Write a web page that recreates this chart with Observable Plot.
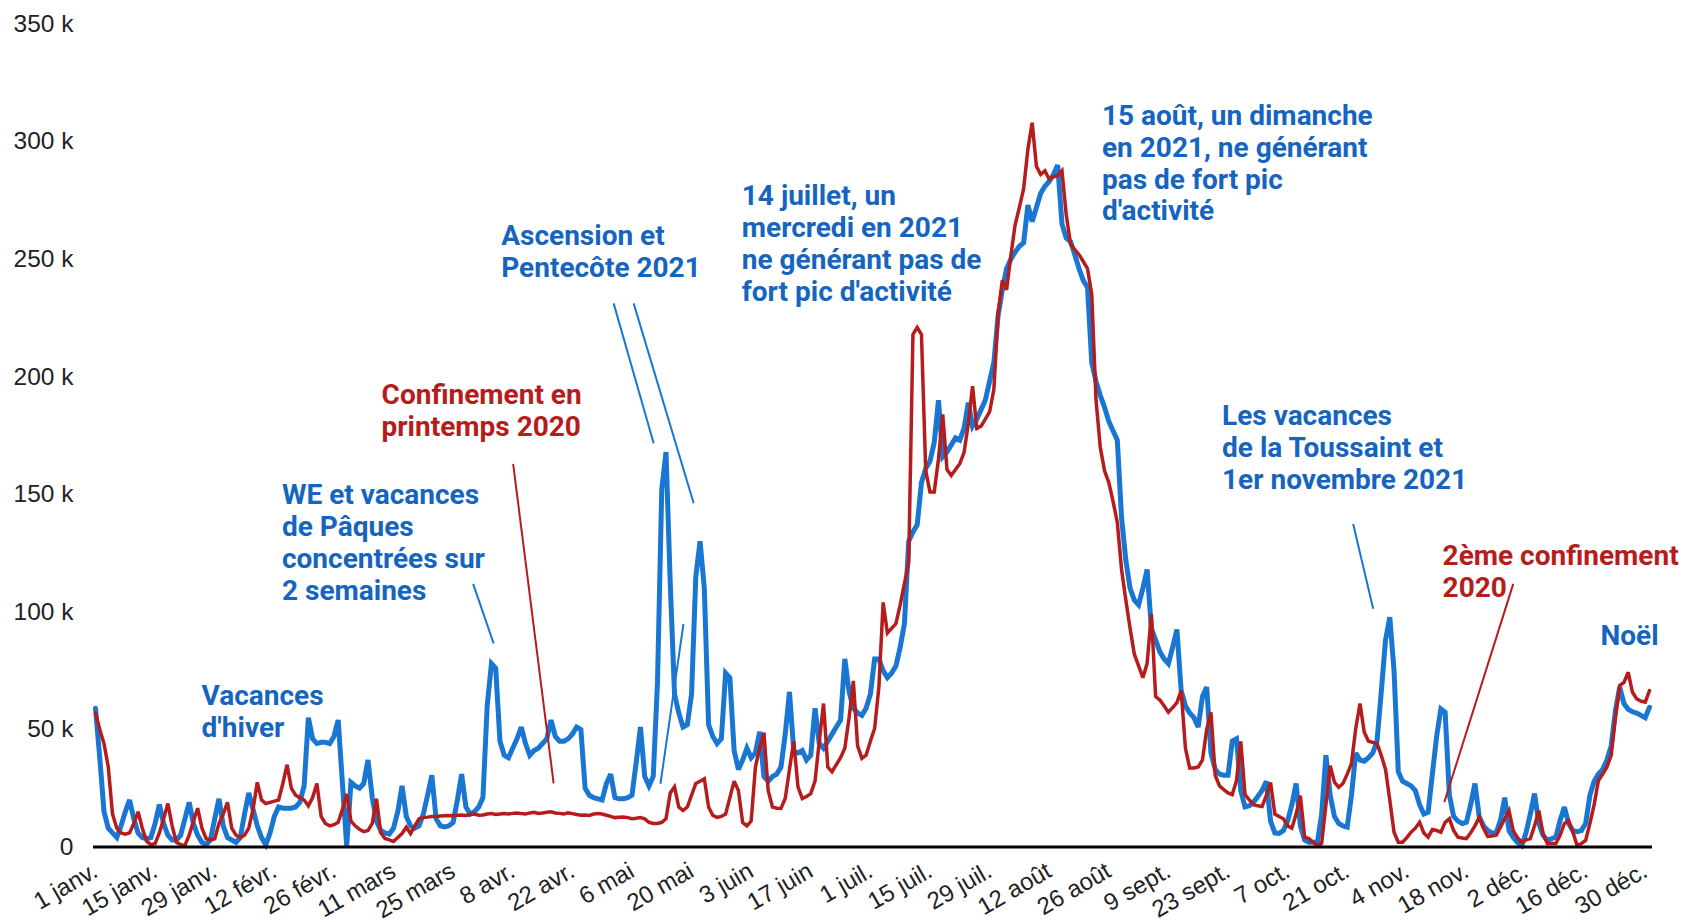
<!DOCTYPE html>
<html>
<head>
<meta charset="utf-8">
<script src="https://cdn.jsdelivr.net/npm/d3@7"></script>
<script src="https://cdn.jsdelivr.net/npm/@observablehq/plot@0.6"></script>
<style>
  html, body { margin: 0; padding: 0; background: #ffffff; }
  #chart svg { display: block; }
</style>
</head>
<body>
<div id="chart"></div>
<script>
// Daily values (thousands), 1 Jan -> 31 Dec, plotted on a 2020 calendar axis
const blue2021 = [
  59, 38, 15, 8, 6, 4, 9, 15, 20, 12,
  6, 4, 3.5, 4, 10, 18, 10, 5, 3, 3,
  5, 12, 19, 10, 5, 2, 1, 3, 12, 20.5,
  9, 4, 3, 2, 4, 14, 23, 16, 9, 4,
  1, 6, 13, 17, 16.5, 16.5, 16.5, 17, 19, 26,
  55, 46, 44, 44.5, 44.5, 44, 47, 54, 27, 0.5,
  27.5, 26, 25, 27, 37, 21, 11, 7, 6, 5.5,
  8, 15, 26, 13, 9, 8, 9, 14, 22, 30.5,
  12, 9, 8.5, 9, 10.5, 20, 31, 17, 14, 15,
  17, 21, 60, 78, 76, 45, 39, 38, 42, 46,
  51, 44, 39, 41, 42, 44, 46, 54, 47, 45,
  45, 46, 48, 51, 50, 25, 22, 21, 20.5, 20,
  27, 31, 21, 20.5, 20.5, 21, 22, 36, 51, 30,
  26, 30, 70, 152, 168, 112, 65, 57, 51, 52,
  65, 115, 130, 110, 52, 47, 44, 46, 74, 72,
  41, 33, 37, 42, 38, 40, 49, 30, 28, 30,
  31, 34, 48, 66, 41, 40, 41, 37, 39, 59,
  44, 42, 45, 48, 51, 54, 80, 66, 59, 57,
  56, 59, 65, 80, 80, 75, 72, 74, 77, 85,
  95, 130, 134, 137, 155, 161, 164, 172, 190, 166,
  168, 171, 174, 173, 178, 189, 179, 182, 186, 190,
  198, 206, 226, 237, 246, 250, 253, 255.5, 257, 273,
  266, 272, 278, 281, 283, 286, 290, 265, 259, 257.5,
  252, 246, 241, 238, 206, 198, 192, 187, 181, 177,
  173, 140, 122, 110, 105, 103, 110, 118, 93, 88,
  83, 80, 78, 85, 92.5, 66.5, 60, 57, 55, 51,
  64, 68, 40, 33, 31, 30.5, 30.5, 45, 46, 24,
  17, 17.5, 19, 21.5, 24, 28, 11, 6, 5.8, 7,
  11, 18, 27, 9, 3, 2, 2, 2, 14, 39,
  22, 13, 10, 9, 8.5, 22, 40, 37, 36.5, 38,
  40, 45, 66, 88, 97.7, 75, 32, 28, 27, 26,
  24, 18, 14, 14.8, 31, 47, 58.7, 57.3, 22, 13,
  11, 10, 10.5, 18, 27, 13, 9, 7, 6, 6,
  11.3, 21, 7, 4, 2, 0.6, 6, 14, 22.7, 10,
  5, 2.8, 3.5, 4.2, 11.3, 17, 10, 7, 6.5, 7,
  10, 22, 28, 31, 33, 37, 43, 58, 68, 61,
  58.5, 57.5, 57, 56, 55, 59.4
];

const red2020 = [
  57, 50, 44, 34, 14, 8, 6, 5.5, 6, 10,
  15, 8, 2.5, 1, 1.5, 6, 12, 18.5, 9, 2,
  1, 0.7, 5, 11, 16.5, 8, 3.5, 3, 3.5, 10,
  14, 19, 8, 5, 4, 5, 8, 16, 27.5, 20,
  18.5, 19, 19.5, 20, 27, 35, 25, 22, 21, 20,
  17.5, 21, 27, 13, 10, 9, 9.5, 10.5, 16, 22.5,
  11, 9, 7.5, 6.5, 7, 10, 20.5, 6, 3.6, 3,
  2.3, 4, 5.7, 8.4, 5.7, 9, 12, 12.5, 12.7, 13,
  13, 13.2, 13.3, 13.4, 13.3, 13.5, 13.6, 13.4, 13.8, 14,
  13.5, 13.6, 14, 14.2, 13.8, 14, 14.2, 14, 14.3, 14.5,
  14.2, 14, 14.5, 14.8, 14.3, 14.5, 14.8, 15, 14.5, 14.3,
  14, 14.5, 14.2, 13.8, 13.5, 13.6, 13.4, 14, 14.2, 14,
  13.5, 13, 12.5, 12.7, 12.8, 12.5, 12, 12.2, 12.5, 12,
  10.5, 10, 10, 10.5, 12, 23, 25.6, 17, 15.5, 17,
  22, 27, 28, 29, 17, 13.4, 12.6, 13, 14, 21,
  28, 24, 10.4, 9, 11, 34, 42, 48.6, 24, 17,
  16.5, 16.4, 20.6, 33, 45, 25.6, 20.6, 21.5, 22.7, 28,
  45, 61, 34, 32, 35, 38, 42, 55, 70.6, 43,
  37.7, 39, 45, 50.4, 68, 104, 91, 93, 95, 103,
  112, 121, 218, 221, 218, 160, 151, 151, 165, 184,
  160.5, 158, 160.5, 163, 167.7, 180, 196, 178, 179, 182,
  185, 194.5, 226.6, 241, 237, 251.5, 264.6, 272, 280, 296.8,
  308, 289.5, 286, 287.6, 284, 285, 285.5, 287.6, 269, 256.6,
  254, 252, 249, 246, 235, 190, 170, 160, 155, 147,
  138, 118, 105, 93, 82, 77, 72, 78, 99, 64,
  62.5, 60, 57.3, 59.3, 61.4, 66.5, 42, 33.6, 33.6, 34,
  37, 50, 57.3, 30.4, 26, 24.4, 23, 22.3, 28.3, 44.9,
  22.3, 20, 18, 17.5, 17.2, 22, 27.4, 14, 13, 12,
  9, 8, 14, 21.8, 4.2, 3.6, 2, 0.6, 1.5, 18,
  34.6, 27.6, 25.4, 27, 31, 35.5, 50.4, 61, 48.8, 45,
  44.5, 44, 39, 33, 20, 6.3, 2, 2, 4, 6.3,
  8, 10.5, 6, 4.2, 7.4, 7, 6.3, 10.5, 12, 7,
  4.2, 3.8, 3.6, 6, 9, 12.7, 8, 4.5, 4.7, 5,
  8.4, 12, 15.5, 7, 4, 2, 3, 3.6, 9, 15.5,
  5.7, 1.5, 1.5, 1.5, 5, 10, 11.3, 6.3, 0.6, 1.5,
  2.8, 10, 18, 28.3, 31, 34, 39, 55, 68.7, 70,
  74.3, 65.8, 63, 62, 61.6, 66.5
];

const tickLabels = [
  "1 janv.", "15 janv.", "29 janv.", "12 févr.", "26 févr.", "11 mars", "25 mars",
  "8 avr.", "22 avr.", "6 mai", "20 mai", "3 juin", "17 juin", "1 juil.",
  "15 juil.", "29 juil.", "12 août", "26 août", "9 sept.", "23 sept.", "7 oct.",
  "21 oct.", "4 nov.", "18 nov.", "2 déc.", "16 déc.", "30 déc."
];
const yTickValues = [0, 50000, 100000, 150000, 200000, 250000, 300000, 350000];

// Annotations (day of year, value in thousands)
const annoTexts = [
  "Vacances\nd'hiver",
  "WE et vacances\nde Pâques\nconcentrées sur\n2 semaines",
  "Confinement en\nprintemps 2020",
  "Ascension et\nPentecôte 2021",
  "14 juillet, un\nmercredi en 2021\nne générant pas de\nfort pic d'activité",
  "15 août, un dimanche\nen 2021, ne générant\npas de fort pic\nd'activité",
  "Les vacances\nde la Toussaint et\n1er novembre 2021",
  "2ème confinement\n2020",
  "Noël"
];
const annoDays   = [24.9, 43.8, 67.2, 95.3, 151.8, 236.4, 264.6, 316.4, 353.5];
const annoValues = [70.2, 155.3, 198, 265.5, 282.5, 316.8, 189, 129.5, 95.5];
const annoSeries = ["2021", "2021", "2020", "2021", "2021", "2021", "2021", "2020", "2021"];

// Leader lines (day, value in thousands)
const leadDay1 = [88.7, 98.1, 121.7, 126.4, 138.1, 295.4, 333.0];
const leadVal1 = [111.9, 162.9, 231.2, 231.2, 94.9, 137.4, 111.9];
const leadDay2 = [93.5, 107.6, 131.1, 140.5, 132.7, 300.1, 316.8];
const leadVal2 = [86.6, 27.1, 171.7, 146.2, 26.9, 101.3, 19.0];
const leadSeries = ["2021", "2020", "2021", "2021", "2021", "2021", "2020"];

if (blue2021.length !== 366 || red2020.length !== 366) {
  throw new Error("length mismatch " + blue2021.length + " " + red2020.length);
}

const BLUE = "#1976D2";
const BLUE_TEXT = "#1565C0";
const RED = "#B71C1C";
const colorOf = s => (s === "2021" ? BLUE_TEXT : RED);

const DAY_MS = 86400000;
const t0 = Date.UTC(2020, 0, 1);
const dayToDate = d => new Date(t0 + d * DAY_MS);

const blueData = blue2021.map((v, i) => ({date: dayToDate(i), value: v * 1000}));
const redData = red2020.map((v, i) => ({date: dayToDate(i), value: v * 1000}));
const tickDates = tickLabels.map((_, i) => dayToDate(14 * i));
const labelByTime = new Map(tickDates.map((d, i) => [+d, tickLabels[i]]));

const annos = annoTexts.map((t, i) => ({
  text: t, date: dayToDate(annoDays[i]), value: annoValues[i] * 1000, color: colorOf(annoSeries[i])
}));
const leaders = leadDay1.map((d, i) => ({
  x1: dayToDate(d), y1: leadVal1[i] * 1000,
  x2: dayToDate(leadDay2[i]), y2: leadVal2[i] * 1000,
  color: leadSeries[i] === "2021" ? BLUE : RED
}));

const chart = Plot.plot({
  width: 1685,
  height: 922,
  marginLeft: 93,
  marginRight: 33,
  marginTop: 23.5,
  marginBottom: 75.5,
  style: {background: "#ffffff", fontFamily: "'Liberation Sans', Arial, sans-serif", fontSize: "24px", color: "#222"},
  x: {type: "utc", domain: [dayToDate(0), dayToDate(365)], insetLeft: 2, insetRight: 3},
  y: {domain: [0, 350000]},
  marks: [
    Plot.axisY({
      ticks: yTickValues,
      tickFormat: d => (d === 0 ? "0" : d / 1000 + " k"),
      tickSize: 0, tickPadding: 20, label: null,
      fontSize: 24.5, fill: "#222"
    }),
    Plot.axisX({
      ticks: tickDates,
      tickFormat: d => labelByTime.get(+d),
      tickRotate: -30, tickSize: 0, tickPadding: 22, label: null,
      fontSize: 24, fill: "#222"
    }),
    Plot.line(blueData, {x: "date", y: "value", stroke: BLUE, strokeWidth: 5, strokeLinejoin: "miter", strokeMiterlimit: 3}),
    Plot.line(redData, {x: "date", y: "value", stroke: RED, strokeWidth: 3.5, strokeLinejoin: "miter", strokeMiterlimit: 3}),
    Plot.ruleY([0], {stroke: "#000", strokeWidth: 3}),
    Plot.link(leaders, {x1: "x1", y1: "y1", x2: "x2", y2: "y2", stroke: "color", strokeWidth: 2}),
    Plot.text(annos, {
      x: "date", y: "value", text: "text", fill: "color",
      textAnchor: "start", lineAnchor: "top", lineHeight: 1.14,
      fontSize: 28, fontWeight: 700, fontFamily: "Roboto, 'Noto Sans', sans-serif"
    })
  ]
});

document.getElementById("chart").appendChild(chart);
</script>
</body>
</html>
